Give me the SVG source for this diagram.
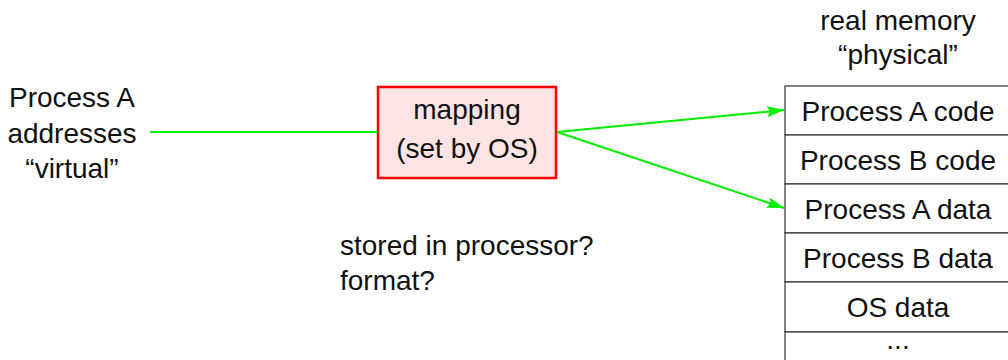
<svg xmlns="http://www.w3.org/2000/svg" width="1008" height="360" viewBox="0 0 1008 360">
<defs>
<style>
text{font-family:"Liberation Sans","DejaVu Sans",sans-serif;font-size:28px;fill:#111}
.c{text-anchor:middle}
.row{fill:#fff;stroke:#333;stroke-width:1.2}
.conn{stroke:#00ee00;stroke-width:2;fill:none}
</style>
<marker id="arr" viewBox="0 0 17 11" refX="17" refY="5.5" markerWidth="17" markerHeight="11" markerUnits="userSpaceOnUse" orient="auto">
<path d="M0,0 L17,5.5 L0,11 L3,5.5 z" fill="#00ee00"/>
</marker>
</defs>
<g id="virtual">
<text class="c" x="72" y="107">Process A</text>
<text class="c" x="72" y="143">addresses</text>
<text class="c" x="72" y="178">“virtual”</text>
</g>
<g id="mapping">
<rect x="378" y="87" width="178" height="91" fill="#fde4e4" stroke="#ff0000" stroke-width="2.5"/>
<text class="c" x="467" y="119">mapping</text>
<text class="c" x="467" y="158">(set by OS)</text>
</g>
<g id="note">
<text x="340" y="255">stored in processor?</text>
<text x="340" y="290">format?</text>
</g>
<g id="memory">
<text class="c" x="898" y="30">real memory</text>
<text class="c" x="898" y="64">“physical”</text>
<rect class="row" x="785" y="86" width="240" height="49"/>
<rect class="row" x="785" y="135" width="240" height="49"/>
<rect class="row" x="785" y="184" width="240" height="49"/>
<rect class="row" x="785" y="233" width="240" height="49"/>
<rect class="row" x="785" y="282" width="240" height="50"/>
<rect class="row" x="785" y="332" width="240" height="40"/>
<text class="c" x="898" y="121">Process A code</text>
<text class="c" x="898" y="170">Process B code</text>
<text class="c" x="898" y="219">Process A data</text>
<text class="c" x="898" y="268">Process B data</text>
<text class="c" x="898" y="317">OS data</text>
<text class="c" x="898" y="349">...</text>
</g>
<g id="connectors">
<line class="conn" x1="150" y1="132" x2="378" y2="132"/>
<line class="conn" x1="557" y1="132" x2="784" y2="110" marker-end="url(#arr)"/>
<line class="conn" x1="557" y1="132" x2="784" y2="208" marker-end="url(#arr)"/>
</g>
</svg>
